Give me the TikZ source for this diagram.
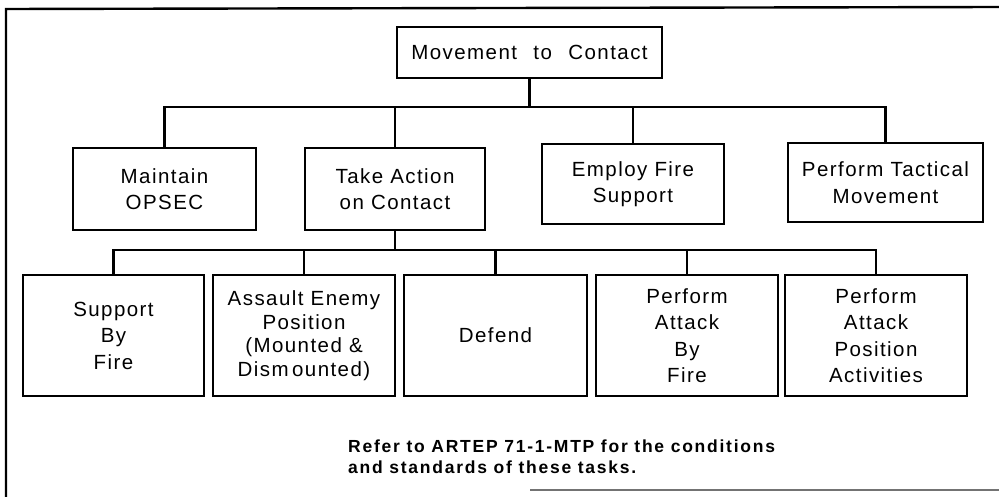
\documentclass[tikz,border=0pt]{standalone}
\usepackage{fontspec}
\setmainfont{Liberation Sans}
\newfontfamily\boxfont[LetterSpace=7]{Liberation Sans}
\newfontfamily\notefont[LetterSpace=10]{Liberation Sans}
\begin{document}
\begin{tikzpicture}[x=1pt,y=-1pt,
  task/.style={draw, line width=2.9pt, align=center, inner sep=0pt,
    font=\boxfont\fontsize{20.5}{26.5}\selectfont},
  link/.style={line width=2.9pt, line join=miter},
  frame/.style={line width=2.4pt}]
\useasboundingbox (0,0) rectangle (999,497);

% outer frame
\draw[frame] (6,497) -- (6,9) -- (999,7);
\draw[line width=1.4pt, black!55] (530,490) -- (999,490);

% root
\node[task, minimum width=265pt, minimum height=51pt] (root) at (529.5,52.5)
  {Movement\hspace{0.8em}to\hspace{0.8em}Contact};

% second level
\node[task, minimum width=183pt, minimum height=82pt] (opsec) at (164.5,189) {Maintain\\OPSEC};
\node[task, minimum width=180pt, minimum height=82pt] (action) at (395,189) {Take Action\\on Contact};
\node[task, minimum width=182pt, minimum height=80pt] (fires) at (633,184) {Employ Fire\\Support};
\node[task, minimum width=195pt, minimum height=79pt] (tactical) at (885.5,182.5) {Perform Tactical\\Movement};

% third level
\node[task, minimum width=181pt, minimum height=121pt] (sbf) at (113.5,335.5) {Support\\By\\Fire};
\node[task, minimum width=182pt, minimum height=121pt,
  font=\boxfont\fontsize{20.5}{23.5}\selectfont] (assault) at (304,335.5)
  {Assault Enemy\\Position\\(Mounted \&\\Dism\,ounted)};
\node[task, minimum width=183pt, minimum height=121pt] (defend) at (495.5,335.5) {Defend};
\node[task, minimum width=182pt, minimum height=121pt] (abf) at (687,335.5) {Perform\\Attack\\By\\Fire};
\node[task, minimum width=182pt, minimum height=121pt] (apa) at (876,335.5) {Perform\\Attack\\Position\\Activities};

% bus lines
\coordinate (busA) at (0,107);
\coordinate (busB) at (0,250);

\draw[link] (root.south) -- (root.south |- busA);
\draw[link] (opsec.north) -- (opsec.north |- busA) -- (tactical.north |- busA) -- (tactical.north);
\draw[link] (action.north) -- (action.north |- busA);
\draw[link] (fires.north) -- (fires.north |- busA);

\draw[link] (action.south) -- (action.south |- busB);
\draw[link] (sbf.north) -- (sbf.north |- busB) -- (apa.north |- busB) -- (apa.north);
\draw[link] (assault.north) -- (assault.north |- busB);
\draw[link] (defend.north) -- (defend.north |- busB);
\draw[link] (abf.north) -- (abf.north |- busB);

% footnote (base anchor sits on the last line)
\node[anchor=base west, align=left, inner sep=0pt,
  font=\notefont\bfseries\fontsize{17.5}{21}\selectfont] (note) at (348,473)
  {Refer to ARTEP 71-1-MTP for the conditions\\and standards of these tasks.};
\end{tikzpicture}
\end{document}
